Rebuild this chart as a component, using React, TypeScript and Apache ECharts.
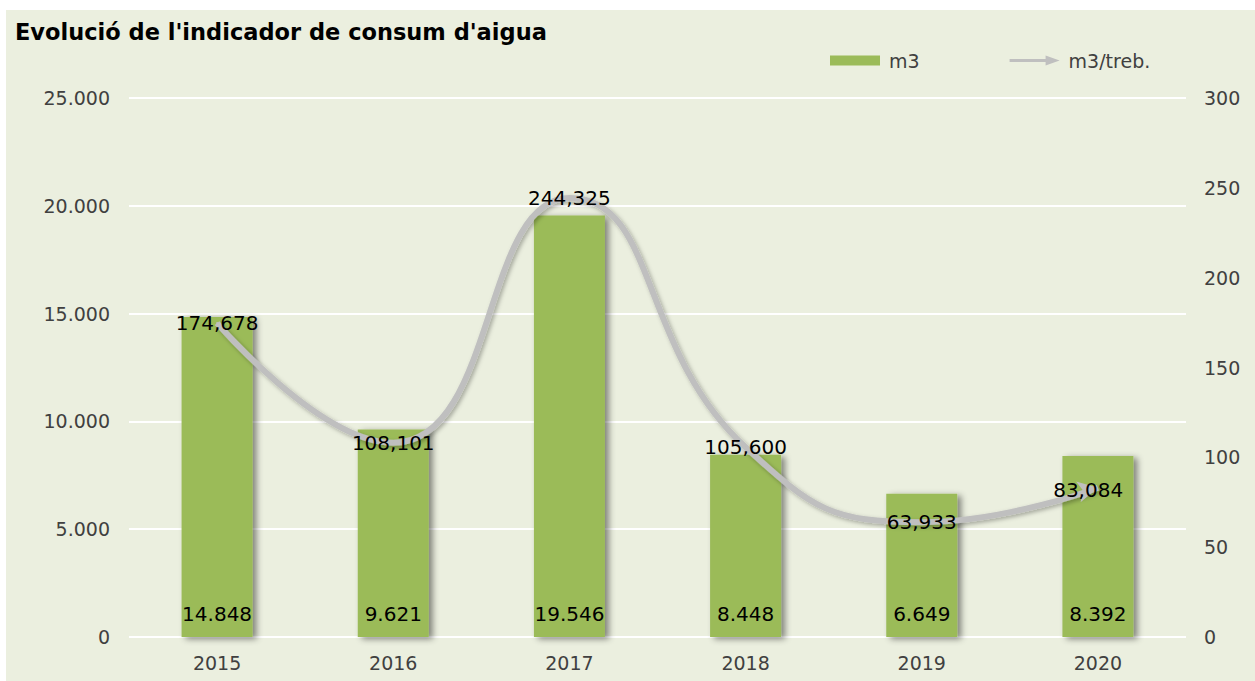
import React, { useEffect, useRef } from "react";
import * as echarts from "echarts";

const titleText = "Evolució de l'indicador de consum d'aigua";
const years = ["2015", "2016", "2017", "2018", "2019", "2020"];
const m3Values = [14848, 9621, 19546, 8448, 6649, 8392];
const perWorkerValues = [174.678, 108.101, 244.325, 105.6, 63.933, 83.084];
const seriesNames = ["m3", "m3/treb."];

const FONT = "'DejaVu Sans', Verdana, sans-serif";

function thousands(v: number): string {
  return String(Math.round(v)).replace(/\B(?=(\d{3})+(?!\d))/g, ".");
}
function decimalComma(v: number): string {
  return v.toFixed(3).replace(".", ",");
}

export default function App() {
  const ref = useRef<HTMLDivElement>(null);
  useEffect(() => {
    if (!ref.current) return;
    const chart = echarts.init(ref.current, null, { renderer: "svg" });
    const lineData = perWorkerValues.map((v, i) =>
      i === perWorkerValues.length - 1
        ? { value: v, symbol: "arrow", symbolSize: [16, 20], symbolRotate: -78 }
        : { value: v }
    );
    chart.setOption({
      animation: false,
      backgroundColor: "transparent",
      textStyle: { fontFamily: FONT },
      title: {
        text: titleText,
        left: 4,
        top: 5,
        textStyle: { fontFamily: FONT, fontSize: 22.5, fontWeight: "bold", color: "#000" },
      },
      legend: {
        left: 819,
        top: 36,
        itemGap: 90,
        itemWidth: 50,
        itemHeight: 10,
        textStyle: { fontFamily: FONT, fontSize: 19, color: "#404040", padding: [0, 0, 0, 4] },
        data: [
          { name: seriesNames[0], icon: "rect" },
          { name: seriesNames[1], icon: "path://M0,3.5 L36,3.5 L36,0 L50,5 L36,10 L36,6.5 L0,6.5 Z" },
        ],
      },
      grid: { left: 123, right: 69, top: 88, bottom: 44, containLabel: false },
      xAxis: {
        type: "category",
        data: years,
        axisLine: { show: false },
        axisTick: { show: false },
        axisLabel: { fontFamily: FONT, fontSize: 19, color: "#404040", margin: 16 },
      },
      yAxis: [
        {
          type: "value",
          min: 0,
          max: 25000,
          interval: 5000,
          axisLine: { show: false },
          axisTick: { show: false },
          splitLine: { lineStyle: { color: "#FFFFFF", width: 2 } },
          axisLabel: {
            fontFamily: FONT,
            fontSize: 19,
            color: "#404040",
            margin: 19,
            formatter: (v: number) => thousands(v),
          },
        },
        {
          type: "value",
          min: 0,
          max: 300,
          interval: 50,
          axisLine: { show: false },
          axisTick: { show: false },
          splitLine: { show: false },
          axisLabel: { fontFamily: FONT, fontSize: 19, color: "#404040", margin: 18 },
        },
      ],
      series: [
        {
          name: seriesNames[0],
          type: "bar",
          data: m3Values,
          barWidth: 71,
          itemStyle: {
            color: "#9BBB59",
            shadowColor: "rgba(0,0,0,0.45)",
            shadowBlur: 6,
            shadowOffsetX: 4,
            shadowOffsetY: 2,
          },
          label: {
            show: true,
            position: "insideBottom",
            distance: 13,
            fontFamily: FONT,
            fontSize: 20,
            color: "#000",
            formatter: (p: any) => thousands(p.value),
          },
        },
        {
          name: seriesNames[1],
          type: "line",
          yAxisIndex: 1,
          smooth: 0.5,
          data: lineData,
          symbol: "circle",
          symbolSize: 2,
          showSymbol: true,
          lineStyle: {
            color: "#BFBFBF",
            width: 6,
            shadowColor: "rgba(0,0,0,0.3)",
            shadowBlur: 4,
            shadowOffsetX: 2,
            shadowOffsetY: 2,
          },
          itemStyle: { color: "#BFBFBF" },
          label: {
            show: true,
            position: "inside",
            fontFamily: FONT,
            fontSize: 20,
            color: "#000",
            formatter: (p: any) => decimalComma(p.value),
          },
          z: 3,
        },
      ],
    });
    return () => chart.dispose();
  }, []);
  return (
    <div style={{ position: "fixed", left: 0, top: 0, width: 1255, height: 681, background: "#FFFFFF" }}>
      <div
        style={{ position: "absolute", left: 6, top: 10, width: 1249, height: 671, background: "#EBEFDF" }}
      >
        <div ref={ref} style={{ width: 1249, height: 671 }} />
      </div>
    </div>
  );
}
